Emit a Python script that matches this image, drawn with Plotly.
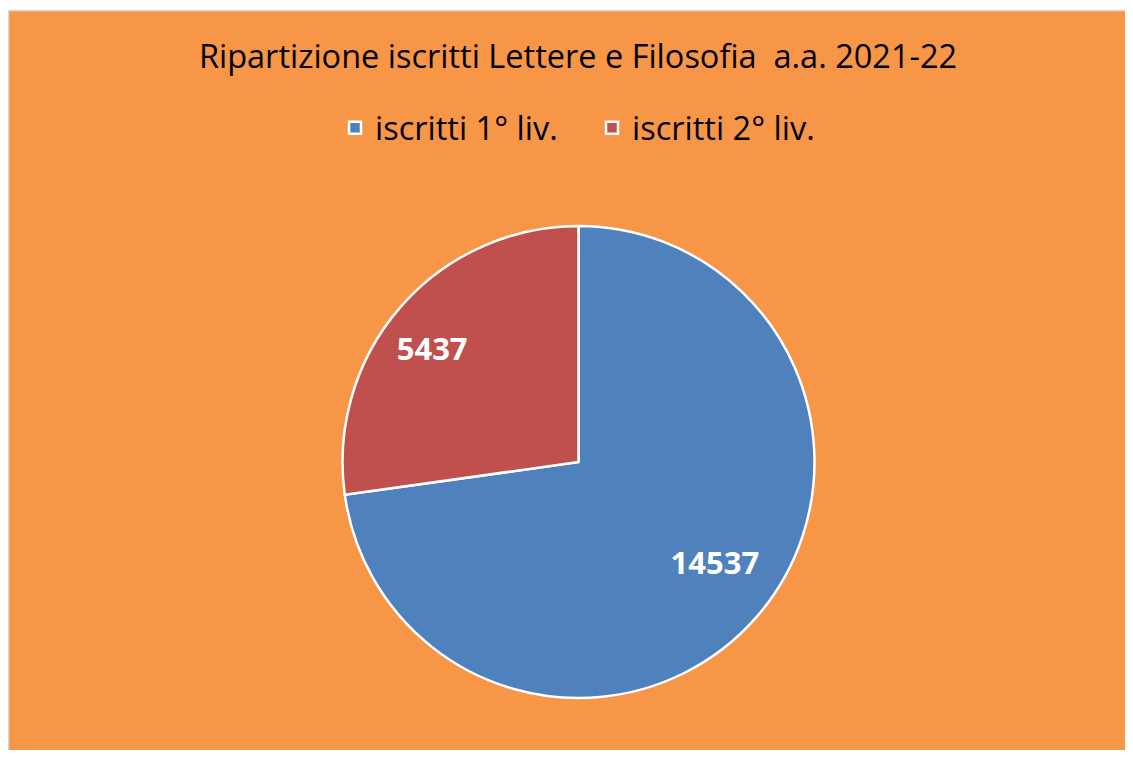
import plotly.graph_objects as go

labels = ["iscritti 1° liv.", "iscritti 2° liv."]
values = [14537, 5437]
colors = ["#4F81BD", "#C0504D"]
title_text = "Ripartizione iscritti Lettere e Filosofia  a.a. 2021-22"

OFF = 8  # page body margin
W, H = 1133 - 2 * OFF, 758 - 2 * OFF


def domain(left, right, top, bottom):
    return dict(x=[(left - OFF) / W, (right - OFF) / W],
                y=[(H - (bottom - OFF)) / H, (H - (top - OFF)) / H])


dom = domain(342, 815, 226, 698)
dom_lbl = domain(337, 810, 219, 691)

fig = go.Figure()
fig.add_trace(go.Pie(
    labels=labels, values=values, sort=False, direction="clockwise", rotation=0,
    marker=dict(colors=colors, line=dict(color="white", width=2.5)),
    textinfo="none", domain=dom, hoverinfo="label+value",
))
# transparent overlay used only to place the data labels like the original
fig.add_trace(go.Pie(
    labels=labels, values=values, sort=False, direction="clockwise", rotation=-4,
    hole=0.5, showlegend=False,
    marker=dict(colors=["rgba(0,0,0,0)"] * 2, line=dict(width=0)),
    texttemplate="%{value:.0f}", textposition="inside", insidetextorientation="horizontal",
    textfont=dict(family="Open Sans", size=31, color="white", weight="bold"),
    domain=dom_lbl, hoverinfo="skip",
))
fig.update_layout(
    width=W, height=H, margin=dict(l=0, r=0, t=0, b=0),
    paper_bgcolor="white",
    title=dict(text=title_text, x=(578 - OFF) / W, xanchor="center", y=1 - (57 - OFF) / H, yanchor="middle",
               font=dict(family="Open Sans", size=32.5, color="black")),
    legend=dict(orientation="h", x=(335 - OFF) / W, xanchor="left", y=1 - (128 - OFF) / H, yanchor="middle",
                font=dict(family="Open Sans", size=32.5, color="black"),
                entrywidth=212, entrywidthmode="pixels",
                bgcolor="rgba(0,0,0,0)", traceorder="normal"),
    shapes=[dict(type="rect", xref="paper", yref="paper", x0=0.5 / W, x1=1.05, y0=-0.05, y1=1 - 2.5 / H,
                 fillcolor="#F79646", line=dict(color="#D9D9D9", width=1.5), layer="below")],
)
fig.write_html("out.html")
